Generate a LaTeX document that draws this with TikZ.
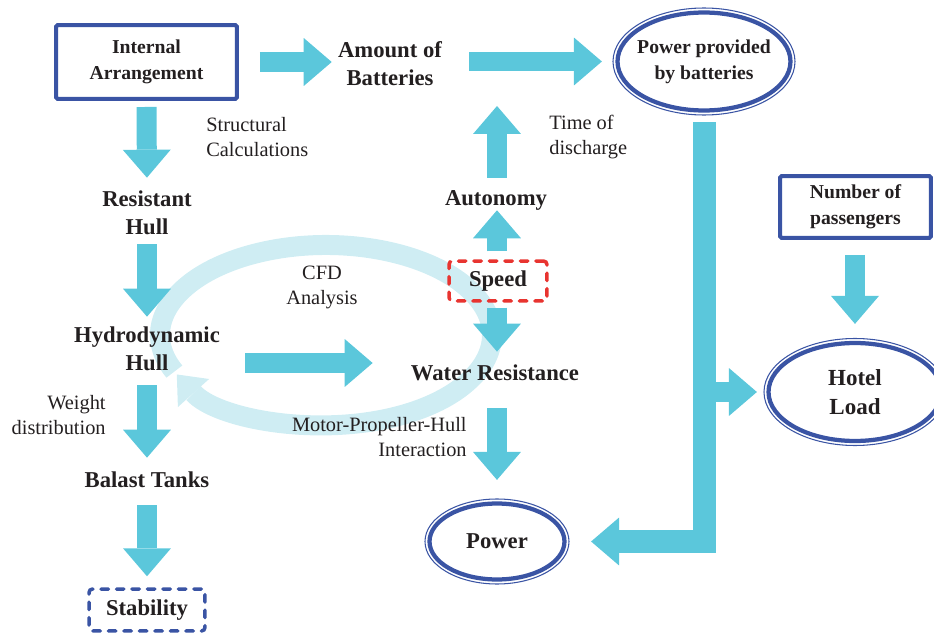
\documentclass[tikz,border=0pt]{standalone}
\usepackage{fontspec}
\setmainfont{Liberation Serif}
\usetikzlibrary{arrows.meta,shapes.geometric}

\begin{document}
\begin{tikzpicture}[x = 0.02cm, y = -0.02cm,
	every node/.style = {text = ink, inner sep = 0pt, align = center},
	big/.style = {font = \fontsize{12.9}{15.9}\selectfont\bfseries},
	small/.style = {font = \fontsize{11.2}{14.8}\selectfont\bfseries},
	note/.style = {font = \fontsize{11.6}{14.2}\selectfont},
	box/.style = {draw = navy, line width = 0.08cm, rounded corners = 1pt, small},
	oval/.style = {ellipse, draw = navy, line width = 0.085cm},
	rim/.style = {draw = navy, line width = 0.6pt},
	dashbox/.style = {line width = 0.07cm, dash pattern = on 0.15cm off 0.16cm, line cap = round, rounded corners = 2pt},
	blk/.style = {draw = aqua, line width = 0.4cm, -{Triangle[length = 0.56cm, width = 0.96cm, line width = 0pt]}},
	ring/.style = {draw = pale, line width = 0.4cm, -{Triangle[length = 0.5cm, width = 0.84cm, line width = 0pt]}}]
	
		\definecolor{navy}{RGB}{58, 84, 164}
		\definecolor{aqua}{RGB}{91, 199, 219}
		\definecolor{pale}{RGB}{207, 237, 243}
		\definecolor{alert}{RGB}{232, 52, 48}
		\definecolor{ink}{RGB}{35, 31, 32}
		
		\useasboundingbox (0, 0) rectangle (934, 635);
		
		% CFD loop behind everything
		\draw[ring] (174.35, 371.6) arc[start angle = 156, end angle = 514, x radius = 166, y radius = 90];
		
		% Left column
		\node[box, minimum width = 3.62cm, minimum height = 1.48cm] (ia) at (146.5, 62) {Internal\\Arrangement};
		\node[big] (rh) at (147, 213) {Resistant\\Hull};
		\node[big] (hh) at (147, 349) {Hydrodynamic\\Hull};
		\node[big] (bt) at (147, 480) {Balast Tanks};
		\node[big, dashbox, draw = navy, minimum width = 2.32cm, minimum height = 0.84cm] (stab) at (147, 610) {Stability};
		
		% Middle column
		\node[big] (amt) at (390, 64) {Amount of\\Batteries};
		\node[big] (aut) at (496, 200) {Autonomy};
		\node[big, dashbox, draw = alert, minimum width = 1.96cm, minimum height = 0.8cm] (spd) at (498, 281) {Speed};
		\node[big] (wr) at (495, 373) {Water Resistance};
		\node[oval, minimum width = 2.7cm, minimum height = 1.52cm] (pw) at (497, 541.5) {};
		\node[big] (pwt) at (pw) {Power};
		\draw[rim] (pw) ellipse[x radius = 72, y radius = 42.5];
		
		% Right column
		\node[oval, minimum width = 3.46cm, minimum height = 1.96cm] (ppb) at (704, 61.5) {};
		\node[small] (ppbt) at (ppb) {Power provided\\by batteries};
		\draw[rim] (ppb) ellipse[x radius = 91, y radius = 53.5];
		\node[box, minimum width = 3.02cm, minimum height = 1.24cm] (pas) at (855.5, 207) {Number of\\passengers};
		\node[oval, minimum width = 3.46cm, minimum height = 1.96cm] (hl) at (855, 392) {};
		\node[big, font = \fontsize{13.1}{16.8}\selectfont\bfseries] (hlt) at (hl) {Hotel\\Load};
		\draw[rim] (hl) ellipse[x radius = 91, y radius = 53.5];
		
		% Edge labels
		\node[note, anchor = west, align = left] (sc) at (206, 137) {Structural\\Calculations};
		\node[note, anchor = west, align = left] (td) at (549, 137) {Time of\\discharge};
		\node[note] (cfd) at (322, 287) {CFD\\Analysis};
		\node[note, anchor = east, align = right] (wd) at (106, 415) {Weight\\distribution};
		\node[note, anchor = east, align = right] (mph) at (467, 437) {Motor-Propeller-Hull\\Interaction};
		
		\coordinate (dchg) at (497, 106);
		
		% Block arrows
		\draw[blk, shorten < = 0.12cm, shorten > = 0.26cm] (ia.south) -- (rh.north);
		\draw[blk, shorten < = 0.18cm, shorten > = 0.2cm] (rh.south) -- (hh.north);
		\draw[blk, shorten < = 0.28cm, shorten > = 0.28cm] (hh.south) -- (bt.north);
		\draw[blk, shorten < = 0.34cm, shorten > = 0.22cm] (bt.south) -- (stab.north);
		
		\draw[blk, shorten < = 0.42cm, shorten > = 0.12cm] (ia.east) -- (ia.east -| amt.west);
		\draw[blk, shorten < = 0.54cm, shorten > = 0.27cm] (amt.east |- ppb.west) -- (ppb.west);
		\draw[blk, shorten < = 0.24cm] (aut.north -| dchg) -- (dchg);
		\draw[blk, shorten < = 0.16cm] (spd.north -| dchg) -- (aut.south -| dchg);
		\draw[blk, shorten < = 0.1cm, shorten > = 0.26cm] (spd.south -| dchg) -- (wr.north -| dchg);
		\draw[blk, shorten < = 0.54cm, shorten > = 0.43cm] (wr.south -| pw.north) -- (pw.north);
		\draw[blk, shorten < = 0.5cm, shorten > = 0.76cm] ([yshift = -0.28cm]hh.east) -- ([yshift = -0.28cm]hh.east -| wr.west);
		
		\draw[blk, shorten < = 0.3cm, shorten > = 0.34cm] (pas.south -| hl.north) -- (hl.north);
		\draw[blk, line width = 0.46cm, shorten < = 0.19cm, shorten > = 0.49cm] (ppb.south) |- (pw.east);
		\draw[blk, shorten > = 0.19cm] (ppb.south |- hl.west) -- (hl.west);
		
	\end{tikzpicture}
\end{document}
